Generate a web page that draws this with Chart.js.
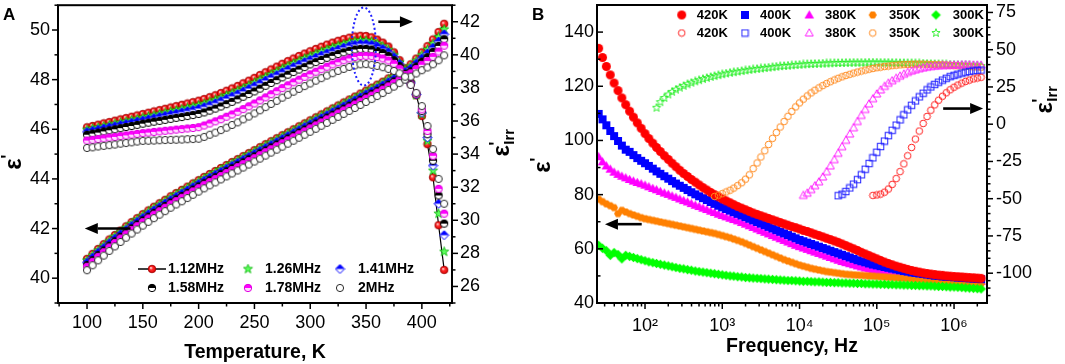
<!DOCTYPE html>
<html>
<head>
  <meta charset="utf-8">
  <title>Dielectric response vs temperature and frequency</title>
  <script src="https://cdn.jsdelivr.net/npm/chart.js"></script>
  <style>
    body {
      margin: 0;
      background: #fff;
      width: 1065px;
      height: 364px;
      overflow: hidden;
      position: relative;
    }
    canvas { position: absolute; top: 0; }
    #chartA { left: 0; }
    #chartB { left: 530px; }
  </style>
</head>
<body>
  <canvas id="chartA" width="520" height="364"></canvas>
  <canvas id="chartB" width="535" height="364"></canvas>
  <script>
    // ---------- panel A : temperature sweep ----------
    const temps = [100,105,110,115,120,125,130,135,140,145,150,155,160,165,170,175,180,185,190,195,
                   200,205,210,215,220,225,230,235,240,245,250,255,260,265,270,275,280,285,290,295,
                   300,305,310,315,320,325,330,335,340,345,350,355,360,365,370,375,380,385,390,395,
                   400,405,410,415,420];
    const freqLabelsA = ['1.12MHz', '1.26MHz', '1.41MHz', '1.58MHz', '1.78MHz', '2MHz'];

    // eps' (left axis)
    const eps112 = [40.78,40.98,41.18,41.37,41.56,41.74,41.92,42.09,42.26,42.42,
                    42.58,42.73,42.88,43.02,43.16,43.30,43.43,43.56,43.69,43.82,
                    43.95,44.08,44.20,44.32,44.44,44.56,44.68,44.80,44.92,45.04,
                    45.16,45.28,45.40,45.52,45.64,45.76,45.88,46.00,46.12,46.24,
                    46.36,46.48,46.60,46.72,46.84,46.96,47.08,47.20,47.32,47.44,
                    47.56,47.68,47.80,47.92,48.05,48.18,48.32,48.46,48.62,48.85,
                    49.10,49.35,49.62,49.92,50.25];
    const eps126 = [40.72,40.92,41.12,41.31,41.50,41.68,41.86,42.03,42.20,42.36,
                    42.52,42.67,42.82,42.96,43.10,43.24,43.37,43.50,43.63,43.76,
                    43.89,44.02,44.14,44.26,44.38,44.50,44.62,44.74,44.86,44.98,
                    45.10,45.22,45.34,45.46,45.58,45.70,45.82,45.94,46.06,46.18,
                    46.30,46.42,46.54,46.66,46.78,46.90,47.02,47.14,47.26,47.38,
                    47.50,47.62,47.74,47.86,47.99,48.12,48.26,48.40,48.55,48.76,
                    48.99,49.21,49.45,49.72,50.03];
    const eps141 = [40.63,40.83,41.03,41.22,41.41,41.59,41.77,41.94,42.11,42.27,
                    42.43,42.58,42.73,42.87,43.01,43.15,43.28,43.41,43.54,43.67,
                    43.80,43.93,44.05,44.17,44.29,44.41,44.53,44.65,44.77,44.89,
                    45.01,45.13,45.25,45.37,45.49,45.61,45.73,45.85,45.97,46.09,
                    46.21,46.33,46.45,46.57,46.69,46.81,46.93,47.05,47.17,47.29,
                    47.41,47.53,47.65,47.77,47.90,48.03,48.17,48.31,48.45,48.65,
                    48.86,49.06,49.29,49.54,49.83];
    const eps158 = [40.53,40.73,40.93,41.12,41.31,41.49,41.67,41.84,42.01,42.17,
                    42.33,42.48,42.63,42.77,42.91,43.05,43.18,43.31,43.44,43.57,
                    43.70,43.83,43.95,44.07,44.19,44.31,44.43,44.55,44.67,44.79,
                    44.91,45.03,45.15,45.27,45.39,45.51,45.63,45.75,45.87,45.99,
                    46.11,46.23,46.35,46.47,46.59,46.71,46.83,46.95,47.07,47.19,
                    47.31,47.43,47.55,47.67,47.80,47.93,48.07,48.21,48.34,48.53,
                    48.73,48.91,49.12,49.36,49.63];
    const eps178 = [40.46,40.66,40.86,41.05,41.24,41.42,41.60,41.77,41.94,42.10,
                    42.26,42.41,42.56,42.70,42.84,42.98,43.11,43.24,43.37,43.50,
                    43.63,43.76,43.88,44.00,44.12,44.24,44.36,44.48,44.60,44.72,
                    44.84,44.96,45.08,45.20,45.32,45.44,45.56,45.68,45.80,45.92,
                    46.04,46.16,46.28,46.40,46.52,46.64,46.76,46.88,47.00,47.12,
                    47.24,47.36,47.48,47.60,47.73,47.86,48.00,48.14,48.26,48.43,
                    48.60,48.75,48.92,49.13,49.37];
    const eps200 = [40.32,40.52,40.72,40.91,41.10,41.28,41.46,41.63,41.80,41.96,
                    42.12,42.27,42.42,42.56,42.70,42.84,42.97,43.10,43.23,43.36,
                    43.49,43.62,43.74,43.86,43.98,44.10,44.22,44.34,44.46,44.58,
                    44.70,44.82,44.94,45.06,45.18,45.30,45.42,45.54,45.66,45.78,
                    45.90,46.02,46.14,46.26,46.38,46.50,46.62,46.74,46.86,46.98,
                    47.10,47.22,47.34,47.46,47.59,47.72,47.86,48.00,48.12,48.25,
                    48.38,48.49,48.62,48.78,48.98];

    // eps'Irr (right axis)
    const irr112 = [35.62,35.70,35.78,35.86,35.94,36.02,36.10,36.18,36.26,36.34,
                    36.42,36.50,36.58,36.66,36.74,36.82,36.90,36.98,37.06,37.14,
                    37.23,37.33,37.44,37.56,37.69,37.83,37.97,38.12,38.28,38.44,
                    38.61,38.78,38.95,39.12,39.29,39.46,39.62,39.78,39.93,40.08,
                    40.22,40.36,40.49,40.62,40.74,40.85,40.95,41.04,41.11,41.15,
                    41.14,41.06,40.92,40.74,40.50,40.15,39.68,39.10,38.35,37.55,
                    36.30,34.60,32.60,29.70,27.00];
    const irr126 = [35.47,35.54,35.61,35.68,35.75,35.83,35.90,35.97,36.05,36.12,
                    36.20,36.27,36.35,36.42,36.49,36.57,36.64,36.72,36.79,36.87,
                    36.95,37.04,37.15,37.27,37.40,37.54,37.68,37.83,37.98,38.14,
                    38.31,38.48,38.65,38.82,38.99,39.16,39.32,39.48,39.63,39.78,
                    39.92,40.06,40.19,40.32,40.44,40.55,40.65,40.75,40.82,40.87,
                    40.86,40.80,40.68,40.52,40.30,39.98,39.54,39.00,38.32,37.57,
                    36.40,34.80,33.00,30.40,28.10];
    const irr141 = [35.34,35.41,35.48,35.55,35.62,35.69,35.76,35.83,35.90,35.97,
                    36.04,36.11,36.18,36.25,36.32,36.39,36.46,36.53,36.60,36.67,
                    36.75,36.85,36.96,37.08,37.21,37.35,37.49,37.63,37.79,37.95,
                    38.11,38.28,38.45,38.62,38.78,38.95,39.11,39.27,39.42,39.57,
                    39.70,39.84,39.97,40.10,40.22,40.33,40.44,40.54,40.61,40.66,
                    40.66,40.61,40.50,40.36,40.16,39.86,39.45,38.94,38.30,37.60,
                    36.50,35.00,33.30,31.00,29.10];
    const irr158 = [35.17,35.24,35.30,35.37,35.44,35.50,35.57,35.64,35.70,35.77,
                    35.84,35.90,35.96,36.01,36.07,36.13,36.19,36.24,36.30,36.36,
                    36.43,36.52,36.63,36.75,36.88,37.02,37.16,37.31,37.47,37.63,
                    37.79,37.96,38.13,38.30,38.47,38.64,38.80,38.96,39.11,39.26,
                    39.42,39.56,39.69,39.82,39.94,40.05,40.15,40.24,40.32,40.36,
                    40.36,40.32,40.23,40.11,39.94,39.68,39.32,38.86,38.26,37.62,
                    36.60,35.20,33.60,31.50,29.80];
    const irr178 = [34.82,34.86,34.91,34.95,35.00,35.04,35.09,35.13,35.18,35.22,
                    35.27,35.30,35.34,35.37,35.41,35.44,35.48,35.51,35.55,35.58,
                    35.63,35.73,35.85,35.98,36.11,36.26,36.40,36.56,36.72,36.89,
                    37.06,37.25,37.43,37.62,37.80,37.99,38.16,38.34,38.50,38.67,
                    38.82,38.98,39.13,39.28,39.42,39.55,39.67,39.78,39.87,39.93,
                    39.94,39.92,39.86,39.78,39.66,39.46,39.16,38.78,38.22,37.65,
                    36.70,35.40,33.90,31.90,30.40];
    const irr200 = [34.37,34.41,34.46,34.50,34.54,34.58,34.63,34.67,34.71,34.76,
                    34.80,34.81,34.82,34.84,34.85,34.86,34.87,34.88,34.90,34.91,
                    34.93,35.04,35.17,35.30,35.45,35.60,35.76,35.92,36.10,36.27,
                    36.46,36.65,36.84,37.03,37.22,37.41,37.59,37.77,37.94,38.11,
                    38.27,38.44,38.59,38.75,38.89,39.03,39.15,39.27,39.36,39.43,
                    39.44,39.40,39.33,39.25,39.15,39.03,38.88,38.68,38.18,37.70,
                    36.90,35.70,34.30,32.50,31.00];

    const aXTicks = [100, 150, 200, 250, 300, 350, 400];
    const aXMinor = [75, 125, 175, 225, 275, 325, 375, 425];
    const aYTicks = [40, 42, 44, 46, 48, 50];
    const aYMinor = [39, 41, 43, 45, 47, 49, 51];
    const aY2Ticks = [26, 28, 30, 32, 34, 36, 38, 40, 42];
    const aY2Minor = [25, 27, 29, 31, 33, 35, 37, 39, 41, 43];

    // ---------- panel B : frequency sweep ----------
    const freq = [25.1,28.2,31.6,35.5,39.8,44.7,50.1,56.2,63.1,70.8,
                  79.4,89.1,100,112,126,141,158,178,200,224,
                  251,282,316,355,398,447,501,562,631,708,
                  794,891,1000,1120,1260,1410,1580,1780,2000,2240,
                  2510,2820,3160,3550,3980,4470,5010,5620,6310,7080,
                  7940,8910,1.0e4,1.12e4,1.26e4,1.41e4,1.58e4,1.78e4,2.0e4,2.24e4,
                  2.51e4,2.82e4,3.16e4,3.55e4,3.98e4,4.47e4,5.01e4,5.62e4,6.31e4,7.08e4,
                  7.94e4,8.91e4,1.0e5,1.12e5,1.26e5,1.41e5,1.58e5,1.78e5,2.0e5,2.24e5,
                  2.51e5,2.82e5,3.16e5,3.55e5,3.98e5,4.47e5,5.01e5,5.62e5,6.31e5,7.08e5,
                  7.94e5,8.91e5,1.0e6,1.12e6,1.26e6,1.41e6,1.58e6,1.78e6,2.0e6,2.24e6];
    const tempLabelsB = ['420K', '400K', '380K', '350K', '300K'];

    // eps' (left axis), one value per frequency
    const epsB420 = [134.0,130.6,127.3,124.2,121.2,118.4,115.7,113.2,110.8,108.6,
                     106.5,104.5,102.5,100.7,99.0,97.4,95.9,94.4,93.0,91.6,
                     90.3,89.0,87.8,86.7,85.6,84.6,83.6,82.6,81.7,80.8,
                     80.0,79.2,78.4,77.7,77.0,76.3,75.6,75.0,74.4,73.8,
                     73.2,72.7,72.2,71.7,71.2,70.7,70.2,69.7,69.2,68.7,
                     68.2,67.8,67.3,66.8,66.4,65.9,65.4,64.9,64.4,63.9,
                     63.4,62.9,62.4,61.8,61.2,60.6,60.0,59.4,58.7,58.1,
                     57.5,56.9,56.3,55.7,55.1,54.6,54.1,53.6,53.2,52.8,
                     52.4,52.0,51.7,51.4,51.1,50.9,50.7,50.5,50.3,50.2,
                     50.0,49.9,49.8,49.7,49.6,49.5,49.4,49.3,49.2,49.1];
    const epsB400 = [109.8,107.8,105.6,103.5,101.6,99.8,98.1,96.6,95.8,94.6,
                     93.5,92.5,91.6,90.6,89.6,88.6,87.7,86.8,85.9,85.0,
                     84.1,83.3,82.5,81.7,80.9,80.1,79.4,78.7,78.0,77.3,
                     76.6,75.9,75.3,74.7,74.1,73.5,72.9,72.3,71.7,71.1,
                     70.5,69.9,69.3,68.7,68.1,67.5,66.9,66.3,65.7,65.1,
                     64.5,63.9,63.3,62.8,62.3,61.8,61.3,60.8,60.3,59.8,
                     59.3,58.8,58.3,57.8,57.3,56.8,56.3,55.8,55.4,55.0,
                     54.6,54.2,53.9,53.6,53.3,53.0,52.7,52.4,52.1,51.8,
                     51.6,51.3,51.1,50.9,50.7,50.5,50.3,50.1,50.0,49.8,
                     49.7,49.6,49.5,49.4,49.3,49.2,49.1,49.0,48.9,48.8];
    const epsB380 = [94.0,92.1,90.6,89.4,88.3,87.5,86.8,86.2,85.6,85.0,
                     84.5,84.0,83.5,82.9,82.3,81.8,81.2,80.6,80.1,79.5,
                     79.0,78.4,77.8,77.3,76.7,76.1,75.6,75.0,74.5,73.9,
                     73.4,72.8,72.3,71.8,71.3,70.8,70.3,69.7,69.1,68.5,
                     67.9,67.3,66.7,66.1,65.5,64.9,64.3,63.7,63.1,62.5,
                     61.9,61.3,60.8,60.3,59.8,59.3,58.8,58.3,57.8,57.3,
                     56.8,56.3,55.8,55.3,54.9,54.5,54.1,53.7,53.3,52.9,
                     52.6,52.3,52.0,51.7,51.4,51.1,50.8,50.6,50.4,50.2,
                     50.0,49.8,49.7,49.6,49.5,49.4,49.3,49.2,49.1,49.0,
                     48.9,48.8,48.7,48.6,48.5,48.4,48.3,48.2,48.1,48.0];
    const epsB350 = [78.3,77.4,76.6,75.9,75.2,73.0,74.2,73.6,73.0,72.5,
                     72.0,71.5,71.1,70.8,70.5,70.2,69.9,69.6,69.3,69.0,
                     68.7,68.4,68.1,67.8,67.5,67.2,66.9,66.6,66.3,66.0,
                     65.7,65.3,64.9,64.5,64.1,63.6,63.1,62.6,62.0,61.4,
                     60.8,60.2,59.6,59.0,58.4,57.8,57.2,56.6,56.0,55.5,
                     55.0,54.5,54.0,53.6,53.2,52.8,52.5,52.2,51.9,51.6,
                     51.4,51.2,51.0,50.8,50.6,50.5,50.4,50.3,50.2,50.1,
                     50.0,49.9,49.8,49.7,49.6,49.5,49.4,49.3,49.2,49.1,
                     49.0,48.9,48.8,48.7,48.6,48.5,48.4,48.3,48.2,48.1,
                     48.0,47.9,47.8,47.7,47.6,47.5,47.4,47.3,47.2,47.1];
    const epsB300 = [61.3,60.2,59.3,57.6,58.6,57.9,56.3,57.6,57.2,56.8,
                     56.4,56.0,55.6,55.2,54.9,54.6,54.3,54.0,53.7,53.4,
                     53.1,52.8,52.6,52.3,52.1,51.8,51.6,51.4,51.2,51.0,
                     50.8,50.6,50.4,50.2,50.0,49.9,49.7,49.6,49.4,49.3,
                     49.2,49.1,49.0,48.9,48.8,48.7,48.6,48.5,48.4,48.3,
                     48.3,48.2,48.1,48.0,48.0,47.9,47.8,47.8,47.7,47.6,
                     47.6,47.5,47.5,47.4,47.4,47.3,47.3,47.2,47.2,47.1,
                     47.1,47.0,47.0,46.9,46.9,46.8,46.8,46.7,46.7,46.6,
                     46.6,46.5,46.5,46.4,46.4,46.3,46.3,46.2,46.1,46.1,
                     46.0,45.9,45.9,45.8,45.7,45.6,45.5,45.4,45.3,45.2];

    // eps'Irr (right axis): these runs cover the last frequencies of the sweep only
    const irrB420 = [-47.8,-47.5,-46.9,-45.6,-43.5,-40.4,-36.5,-31.8,-26.6,
                     -21.2,-15.6,-10.0,-4.6,0.5,5.2,9.4,13.0,16.1,18.8,
                     21.1,23.1,24.8,26.3,27.6,28.7,29.6,30.4,31.0,31.5];
    const irrB400 = [-48.0,-47.0,-45.2,-42.8,-40.2,-37.2,-34.0,-30.2,
                     -26.4,-22.6,-18.8,-15.0,-11.3,-7.7,-4.1,-0.6,2.9,6.3,
                     9.6,12.7,15.6,18.3,20.8,23.0,25.0,26.7,28.2,29.6,
                     30.8,31.9,32.8,33.6,34.3,34.9,35.4,35.8,36.1,36.3];
    const irrB380 = [-47.8,-46.3,-43.9,-41.3,-38.7,-35.4,-31.9,
                     -28.0,-23.8,-19.5,-15.1,-10.8,-6.6,-2.4,1.8,5.9,9.9,
                     13.6,17.1,20.3,23.0,25.4,27.5,29.2,30.8,32.3,33.6,
                     34.8,35.7,36.5,37.2,37.8,38.3,38.7,39.0,39.2,39.4,
                     39.5,39.6,39.7,39.8,39.9,40.0,39.9,39.8,39.7,39.6];
    const irrB350 = [-48.5,-47.6,-46.6,-45.5,-44.3,-42.9,-41.2,-39.3,-36.9,-34.0,
                     -29.8,-26.0,-22.0,-17.8,-13.6,-9.5,-5.6,-1.9,1.8,5.3,
                     8.6,11.6,14.3,16.8,19.0,21.0,22.8,24.4,25.9,27.3,
                     28.5,29.7,30.8,31.8,32.7,33.5,34.3,35.0,35.7,36.3,
                     36.9,37.4,37.9,38.3,38.7,39.0,39.3,39.6,39.8,40.0,
                     40.1,40.2,40.3,40.3,40.3,40.2,40.1,40.0,39.9,39.8,
                     39.7,39.5,39.3,39.2,39.0,38.8,38.7,38.5,38.4,38.2];
    const irrB300 = [11.0,14.8,17.6,19.9,21.7,
                     23.2,24.5,25.7,26.8,27.8,28.7,29.5,30.3,31.0,31.7,
                     32.3,32.9,33.5,34.0,34.5,34.9,35.3,35.7,36.1,36.5,
                     36.8,37.1,37.4,37.7,38.0,38.3,38.6,38.9,39.1,39.3,
                     39.5,39.7,39.9,40.1,40.3,40.4,40.5,40.6,40.7,40.8,
                     40.9,41.0,41.1,41.1,41.2,41.2,41.3,41.3,41.3,41.3,
                     41.4,41.4,41.4,41.3,41.3,41.3,41.2,41.2,41.1,41.1,
                     41.0,41.0,40.9,40.8,40.7,40.6,40.5,40.4,40.3,40.2,
                     40.1,40.0,39.9,39.8,39.7,39.6,39.5,39.3,39.2,39.0];

    const bXTicks = [1e2, 1e3, 1e4, 1e5, 1e6];
    const bYTicks = [40, 60, 80, 100, 120, 140];
    const bYMinor = [50, 70, 90, 110, 130, 150];
    const bY2Ticks = [-100, -75, -50, -25, 0, 25, 50, 75];
    const bY2Minor = [-115,-110,-105,-95,-90,-85,-80,-70,-65,-60,-55,-45,-40,-35,-30,-20,-15,-10,-5,
                      5,10,15,20,30,35,40,45,55,60,65,70];
    const bXMinor = [];
    [10, 100, 1000, 1e4, 1e5, 1e6].forEach(d => {
      [2, 3, 4, 5, 6, 7, 8, 9].forEach(k => {
        if (k * d > 24 && k * d < 2.6e6) bXMinor.push(k * d);
      });
    });

    const FONT = '"Liberation Sans", Arial, sans-serif';
    Chart.defaults.font.family = FONT;
    Chart.defaults.color = '#000';

    // ---------- marker images ----------
    function mk(size, draw) {
      const c = document.createElement('canvas');
      c.width = size; c.height = size;
      draw(c.getContext('2d'), size / 2);
      return c;
    }
    function starPath(g, cx, cy, R, r) {
      g.beginPath();
      for (let i = 0; i < 10; i++) {
        const a = -Math.PI / 2 + i * Math.PI / 5;
        const rr = i % 2 ? r : R;
        g.lineTo(cx + rr * Math.cos(a), cy + rr * Math.sin(a));
      }
      g.closePath();
    }
    function halfFill(g, h, path, top, bottom, edge) {
      path(); g.fillStyle = bottom; g.fill();
      g.save(); path(); g.clip(); g.fillStyle = top; g.fillRect(0, 0, h * 2, h); g.restore();
      path(); g.strokeStyle = edge; g.lineWidth = 1; g.stroke();
    }

    const mRed = mk(10, (g, h) => {
      const grd = g.createRadialGradient(h - 1.2, h - 1.2, 0.2, h, h, 3.9);
      grd.addColorStop(0, '#ffe6e6'); grd.addColorStop(0.4, '#ff2a2a'); grd.addColorStop(1, '#dd0000');
      g.beginPath(); g.arc(h, h, 3.8, 0, 2 * Math.PI);
      g.fillStyle = grd; g.fill(); g.lineWidth = 0.8; g.strokeStyle = '#a00000'; g.stroke();
    });
    const mGreen = mk(11, (g, h) => {
      starPath(g, h, h, 4.8, 2); g.fillStyle = '#5cff5c'; g.fill();
      g.lineWidth = 0.8; g.strokeStyle = '#00b400'; g.stroke();
    });
    const mBlue = mk(11, (g, h) => halfFill(g, h, () => {
      g.beginPath(); g.moveTo(h, h - 4.5); g.lineTo(h + 4.5, h); g.lineTo(h, h + 4.5); g.lineTo(h - 4.5, h); g.closePath();
    }, '#0000ff', '#ffffff', '#0000ff'));
    const mBlack = mk(10, (g, h) => halfFill(g, h, () => { g.beginPath(); g.arc(h, h, 3.7, 0, 2 * Math.PI); }, '#000', '#fff', '#000'));
    const mMag = mk(10, (g, h) => halfFill(g, h, () => { g.beginPath(); g.arc(h, h, 3.7, 0, 2 * Math.PI); }, '#ff00ff', '#ffd6ff', '#e000e0'));
    const mWhite = mk(10, (g, h) => {
      g.beginPath(); g.arc(h, h, 3.6, 0, 2 * Math.PI);
      g.fillStyle = '#fff'; g.fill(); g.lineWidth = 1; g.strokeStyle = '#2a2a2a'; g.stroke();
    });

    const fRed = mk(11, (g, h) => { g.beginPath(); g.arc(h, h, 4.5, 0, 2 * Math.PI); g.fillStyle = '#ff0000'; g.fill(); });
    const fBlue = mk(10, (g, h) => { g.fillStyle = '#0000ff'; g.fillRect(h - 4, h - 4, 8, 8); });
    const fMag = mk(11, (g, h) => {
      g.beginPath(); g.moveTo(h, h - 4.8); g.lineTo(h + 4.8, h + 3.6); g.lineTo(h - 4.8, h + 3.6); g.closePath();
      g.fillStyle = '#ff00ff'; g.fill();
    });
    const fOrange = mk(10, (g, h) => {
      g.beginPath();
      for (let i = 0; i < 6; i++) g.lineTo(h + 4 * Math.cos(i * Math.PI / 3), h + 4 * Math.sin(i * Math.PI / 3));
      g.closePath(); g.fillStyle = '#ff8000'; g.fill();
    });
    const fGreen = mk(11, (g, h) => {
      g.beginPath(); g.moveTo(h, h - 4.8); g.lineTo(h + 4.8, h); g.lineTo(h, h + 4.8); g.lineTo(h - 4.8, h); g.closePath();
      g.fillStyle = '#00ff00'; g.fill();
    });
    const oRed = mk(9, (g, h) => { g.beginPath(); g.arc(h, h, 3.3, 0, 2 * Math.PI); g.lineWidth = 1; g.strokeStyle = '#ff2020'; g.stroke(); });
    const oBlue = mk(9, (g, h) => { g.lineWidth = 1; g.strokeStyle = '#2020ff'; g.strokeRect(h - 3.2, h - 3.2, 6.4, 6.4); });
    const oMag = mk(10, (g, h) => {
      g.beginPath(); g.moveTo(h, h - 4.2); g.lineTo(h + 4, h + 3); g.lineTo(h - 4, h + 3); g.closePath();
      g.lineWidth = 1; g.strokeStyle = '#ff20ff'; g.stroke();
    });
    const oOrange = mk(9, (g, h) => { g.beginPath(); g.arc(h, h, 3.3, 0, 2 * Math.PI); g.lineWidth = 1; g.strokeStyle = '#ff8a1f'; g.stroke(); });
    const oGreen = mk(10, (g, h) => { starPath(g, h, h, 4.3, 1.8); g.lineWidth = 0.9; g.strokeStyle = '#22ee22'; g.stroke(); });

    // ---------- drawing helpers ----------
    function arrow(ctx, x1, y, x2) {
      const dir = Math.sign(x2 - x1), hl = 13, hw = 5.5;
      ctx.lineWidth = 2.6;
      ctx.beginPath(); ctx.moveTo(x1, y); ctx.lineTo(x2 - dir * hl, y); ctx.stroke();
      ctx.beginPath(); ctx.moveTo(x2, y); ctx.lineTo(x2 - dir * hl, y - hw); ctx.lineTo(x2 - dir * hl, y + hw);
      ctx.closePath(); ctx.fill();
    }
    function epsTitle(ctx, cx, cy, sub) {
      ctx.save();
      ctx.translate(cx, cy);
      ctx.rotate(-Math.PI / 2);
      ctx.textBaseline = 'alphabetic';
      ctx.textAlign = 'left';
      const f1 = 'bold 24px ' + FONT, f2 = 'bold 18px ' + FONT, f3 = 'bold 15px ' + FONT;
      ctx.font = f1; const w1 = ctx.measureText('\u03b5').width;
      ctx.font = f3; const ws = sub ? ctx.measureText(sub).width : 4;
      const x0 = -(w1 + ws) / 2;
      ctx.font = f1; ctx.fillText('\u03b5', x0, 6);
      ctx.font = f2; ctx.fillText("'", x0 + w1 - 0.5, -1);
      if (sub) { ctx.font = f3; ctx.fillText(sub, x0 + w1 + 0.5, 11); }
      ctx.restore();
    }

    const decor = {
      id: 'decor',
      afterDraw(chart, args, o) {
        const ctx = chart.ctx, a = chart.chartArea;
        ctx.save();
        ctx.strokeStyle = '#000'; ctx.fillStyle = '#000';
        // tick marks (negative length = inward)
        (o.ticks || []).forEach(t => {
          const s = chart.scales[t.axis];
          ctx.lineWidth = 1.5;
          t.values.forEach(v => {
            const p = s.getPixelForValue(v);
            ctx.beginPath();
            if (s.isHorizontal()) { ctx.moveTo(p, a.bottom); ctx.lineTo(p, a.bottom + t.len); }
            else if (s.position === 'left') { ctx.moveTo(a.left, p); ctx.lineTo(a.left - t.len, p); }
            else { ctx.moveTo(a.right, p); ctx.lineTo(a.right + t.len, p); }
            ctx.stroke();
          });
        });
        // frame
        ctx.lineWidth = 2;
        ctx.strokeRect(a.left, a.top, a.right - a.left, a.bottom - a.top);
        // arrows
        (o.arrows || []).forEach(ar => {
          const sx = chart.scales.x, sy = chart.scales[ar.axis];
          arrow(ctx, sx.getPixelForValue(ar.from), sy.getPixelForValue(ar.y), sx.getPixelForValue(ar.to));
        });
        // dotted ellipse
        if (o.ellipse) {
          const e = o.ellipse, sx = chart.scales.x, sy = chart.scales[e.axis];
          const cx = sx.getPixelForValue(e.x), cy = sy.getPixelForValue(e.y);
          ctx.save();
          ctx.strokeStyle = '#1f1fff'; ctx.lineWidth = 2; ctx.setLineDash([2, 2.5]);
          ctx.beginPath();
          ctx.ellipse(cx, cy, Math.abs(sx.getPixelForValue(e.x + e.dx) - cx), Math.abs(sy.getPixelForValue(e.y + e.dy) - cy), 0, 0, 2 * Math.PI);
          ctx.stroke();
          ctx.restore();
        }
        // legend
        (o.legend || []).forEach(it => {
          if (it.line) {
            ctx.lineWidth = 1.5; ctx.beginPath(); ctx.moveTo(it.line[0], it.y); ctx.lineTo(it.line[1], it.y); ctx.stroke();
          }
          ctx.drawImage(it.m, it.x - it.m.width / 2, it.y - it.m.height / 2);
          ctx.font = 'bold ' + o.legendSize + 'px ' + FONT;
          ctx.textBaseline = 'middle'; ctx.textAlign = 'left';
          ctx.fillText(it.text, it.tx, it.y + 0.5);
        });
        // titles
        ctx.textAlign = 'center'; ctx.textBaseline = 'alphabetic';
        ctx.font = 'bold 19.5px ' + FONT;
        ctx.fillText(o.xTitle.text, o.xTitle.x, o.xTitle.y);
        epsTitle(ctx, o.leftTitle.x, o.leftTitle.y, '');
        epsTitle(ctx, o.rightTitle.x, o.rightTitle.y, 'Irr');
        ctx.textAlign = 'left';
        ctx.font = 'bold 17px ' + FONT;
        ctx.fillText(o.letter.text, o.letter.x, o.letter.y);
        ctx.restore();
      }
    };

    function axis(pos, min, max, ticks, size, pad, extra) {
      return Object.assign({
        position: pos, min: min, max: max,
        grid: { display: false, drawTicks: false },
        border: { display: false },
        ticks: { font: { size: 18 }, color: '#000', padding: pad, autoSkip: false, maxRotation: 0 },
        afterBuildTicks: s => { s.ticks = ticks.map(v => ({ value: v })); },
        afterFit: s => {
          if (s.isHorizontal()) s.height = size; else s.width = size;
          s.paddingTop = 0; s.paddingBottom = 0; s.paddingLeft = 0; s.paddingRight = 0;
        }
      }, extra || {});
    }

    // ---------- chart A ----------
    // the lower-frequency rows sit above, so later series are drawn over earlier ones
    const seriesA = [
      { eps: eps112, irr: irr112, m: mRed, line: true, order: 5 },
      { eps: eps126, irr: irr126, m: mGreen, order: 4 },
      { eps: eps141, irr: irr141, m: mBlue, order: 3 },
      { eps: eps158, irr: irr158, m: mBlack, order: 2 },
      { eps: eps178, irr: irr178, m: mMag, order: 1 },
      { eps: eps200, irr: irr200, m: mWhite, order: 0 }
    ];
    const dsA = [];
    seriesA.forEach(s => {
      [['y2', s.irr], ['y', s.eps]].forEach(([ax, vals]) => {
        dsA.push({
          data: temps.map((t, i) => ({ x: t, y: vals[i] })),
          yAxisID: ax,
          order: s.order,
          pointStyle: s.m,
          pointRadius: 4,
          showLine: !!s.line,
          borderColor: '#000',
          borderWidth: 1.2
        });
      });
    });

    new Chart(document.getElementById('chartA'), {
      type: 'scatter',
      data: { datasets: dsA },
      options: {
        responsive: false, animation: false, events: [],
        layout: { padding: { top: 4, left: 0, right: 0, bottom: 0 } },
        plugins: {
          legend: { display: false }, tooltip: { enabled: false },
          decor: {
            ticks: [
              { axis: 'x', values: aXTicks, len: 6 }, { axis: 'x', values: aXMinor, len: 3.5 },
              { axis: 'y', values: aYTicks, len: 6 }, { axis: 'y', values: aYMinor, len: 3.5 },
              { axis: 'y2', values: aY2Ticks, len: 6 }, { axis: 'y2', values: aY2Minor, len: 3.5 }
            ],
            arrows: [{ axis: 'y', y: 42, from: 139, to: 98 }, { axis: 'y2', y: 42, from: 361, to: 392 }],
            ellipse: { axis: 'y2', x: 348, y: 40.5, dx: 10.8, dy: 2.36 },
            legendSize: 14,
            legend: [
              { m: mRed, x: 152, y: 269, text: freqLabelsA[0], tx: 168, line: [138, 166] },
              { m: mGreen, x: 248, y: 269, text: freqLabelsA[1], tx: 265 },
              { m: mBlue, x: 340, y: 269, text: freqLabelsA[2], tx: 358 },
              { m: mBlack, x: 152, y: 288, text: freqLabelsA[3], tx: 168 },
              { m: mMag, x: 248, y: 288, text: freqLabelsA[4], tx: 265 },
              { m: mWhite, x: 340, y: 288, text: freqLabelsA[5], tx: 358 }
            ],
            xTitle: { text: 'Temperature, K', x: 255, y: 358 },
            leftTitle: { x: 15, y: 162 },
            rightTitle: { x: 503, y: 143 },
            letter: { text: 'A', x: 3, y: 20 }
          }
        },
        scales: {
          x: axis('bottom', 74, 427, aXTicks, 61, 9, { type: 'linear' }),
          y: axis('left', 39, 51, aYTicks, 58, 8),
          y2: axis('right', 25, 43, aY2Ticks, 68, 8)
        }
      },
      plugins: [decor]
    });

    // ---------- chart B ----------
    const sup = { 2: '\u00b2', 3: '\u00b3', 4: '\u2074', 5: '\u2075', 6: '\u2076' };
    const openB = [
      { vals: irrB420, m: oRed }, { vals: irrB400, m: oBlue }, { vals: irrB380, m: oMag },
      { vals: irrB350, m: oOrange }, { vals: irrB300, m: oGreen }
    ];
    // red and green bands lie on top of the ones between them
    const filledB = [
      { vals: epsB420, m: fRed, order: 1 }, { vals: epsB400, m: fBlue, order: 3 }, { vals: epsB380, m: fMag, order: 5 },
      { vals: epsB350, m: fOrange, order: 4 }, { vals: epsB300, m: fGreen, order: 2 }
    ];
    const dsB = [];
    openB.forEach(s => {
      const off = freq.length - s.vals.length;
      dsB.push({ data: s.vals.map((v, i) => ({ x: freq[off + i], y: v })), yAxisID: 'y2', order: 0, pointStyle: s.m, pointRadius: 4 });
    });
    filledB.forEach(s => {
      dsB.push({ data: s.vals.map((v, i) => ({ x: freq[i], y: v })), yAxisID: 'y', order: s.order, pointStyle: s.m, pointRadius: 4 });
    });

    const legendB = [];
    [[fRed, oRed], [fBlue, oBlue], [fMag, oMag], [fOrange, oOrange], [fGreen, oGreen]].forEach((pair, i) => {
      const mx = [151.7, 215, 279.3, 342.7, 406][i];
      const tx = [166.7, 230, 295, 359, 422.7][i];
      legendB.push({ m: pair[0], x: mx, y: 15, text: tempLabelsB[i], tx: tx });
      legendB.push({ m: pair[1], x: mx, y: 33, text: tempLabelsB[i], tx: tx });
    });

    new Chart(document.getElementById('chartB'), {
      type: 'scatter',
      data: { datasets: dsB },
      options: {
        responsive: false, animation: false, events: [],
        layout: { padding: { top: 5, left: 0, right: 0, bottom: 0 } },
        plugins: {
          legend: { display: false }, tooltip: { enabled: false },
          decor: {
            ticks: [
              { axis: 'x', values: bXTicks, len: 6 }, { axis: 'x', values: bXMinor, len: 3.5 },
              { axis: 'y', values: bYTicks, len: -6 }, { axis: 'y', values: bYMinor, len: -3.5 },
              { axis: 'y2', values: bY2Ticks, len: 6 }, { axis: 'y2', values: bY2Minor, len: 3.5 }
            ],
            arrows: [{ axis: 'y', y: 69.1, from: 90.6, to: 30.3 }, { axis: 'y2', y: 10.5, from: 7.23e5, to: 2.38e6 }],
            legendSize: 13,
            legend: legendB,
            xTitle: { text: 'Frequency, Hz', x: 262, y: 352 },
            leftTitle: { x: 14, y: 165 },
            rightTitle: { x: 516, y: 100 },
            letter: { text: 'B', x: 2, y: 20 }
          }
        },
        scales: {
          x: axis('bottom', 23.9, 2.67e6, bXTicks, 61, 12, {
            type: 'logarithmic',
            ticks: { font: { size: 18 }, color: '#000', padding: 12, autoSkip: false, maxRotation: 0,
                     callback: v => '10' + sup[Math.round(Math.log10(v))] }
          }),
          y: axis('left', 40, 150, bYTicks, 67, 3),
          y2: axis('right', -120, 80, bY2Ticks, 78, 9)
        }
      },
      plugins: [decor]
    });
  </script>
</body>
</html>
